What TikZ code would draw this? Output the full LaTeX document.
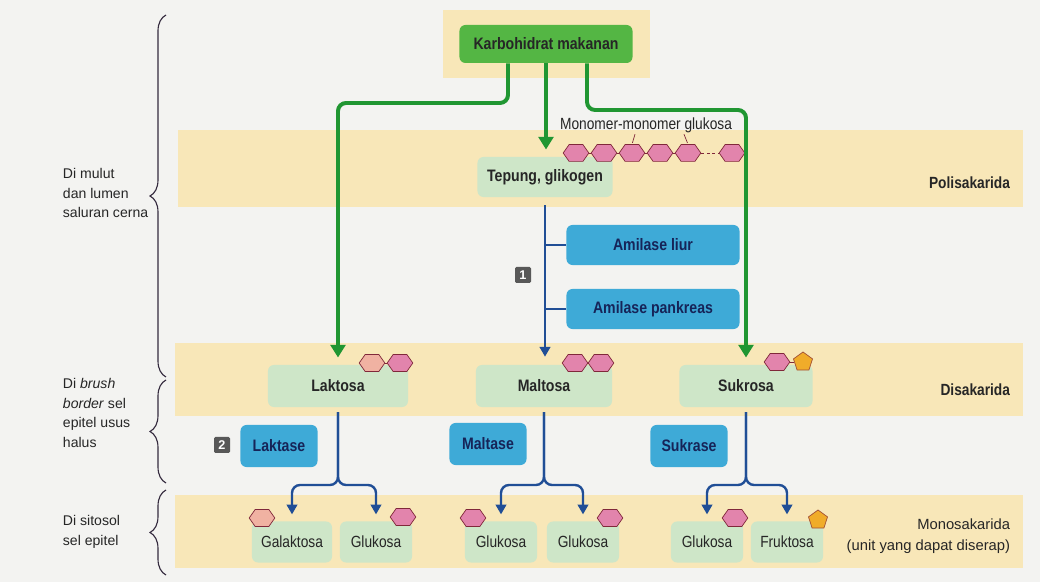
\documentclass[tikz,border=0pt]{standalone}
\usepackage{fontspec}
\setmainfont{Liberation Sans}
\newfontfamily\narrowfont[FakeStretch=0.85]{Liberation Sans}
\usetikzlibrary{arrows.meta,shapes.geometric,shapes.symbols,decorations.pathreplacing}

\definecolor{paper}{RGB}{243,243,241}
\definecolor{band}{RGB}{248,231,184}
\definecolor{dgreen}{RGB}{84,182,68}
\definecolor{lgreen}{RGB}{206,230,200}
\definecolor{eblue}{RGB}{62,170,215}
\definecolor{navy}{RGB}{22,36,88}
\definecolor{txt}{RGB}{38,38,38}
\definecolor{garrow}{RGB}{32,150,50}
\definecolor{barrow}{RGB}{32,78,150}
\definecolor{hexpink}{RGB}{226,132,172}
\definecolor{hexsalmon}{RGB}{240,178,162}
\definecolor{hexline}{RGB}{128,40,58}
\definecolor{fruorange}{RGB}{240,172,42}
\definecolor{badgegray}{RGB}{88,88,88}
\definecolor{bracecol}{RGB}{52,42,62}

\begin{document}
\begin{tikzpicture}[x=0.025cm,y=-0.025cm]
        % styles
        \tikzstyle{box}=[rounded corners=0.15cm, inner sep=0pt, text=txt, font={\narrowfont\bfseries\fontsize{11.8}{13}\selectfont}]
        \tikzstyle{topbox}=[box, fill=dgreen, minimum width=4.325cm, minimum height=0.95cm]
        \tikzstyle{sugar}=[box, fill=lgreen, minimum width=3.4cm, minimum height=1.05cm]
        \tikzstyle{enzyme}=[box, fill=eblue, text=navy, minimum height=1.0cm]
        \tikzstyle{mono}=[box, fill=lgreen, font={\narrowfont\fontsize{11.5}{13}\selectfont}, minimum width=1.8cm, minimum height=1.025cm]
        \tikzstyle{hexa}=[signal, signal to=east and west, signal pointer angle=110, fill=hexpink, draw=hexline, line width=0.5pt, minimum width=0.64cm, minimum height=0.42cm, inner sep=0pt]
        \tikzstyle{galhexa}=[hexa, fill=hexsalmon]
        \tikzstyle{penta}=[regular polygon, regular polygon sides=5, fill=fruorange, draw=hexline!70!fruorange, line width=0.5pt, minimum size=0.5cm, inner sep=0pt]
        \tikzstyle{link}=[draw=hexline, line width=0.6pt]
        \tikzstyle{greenarrow}=[draw=garrow, line width=2.8pt, rounded corners=0.2cm, -{Triangle[length=9pt,width=10.5pt]}]
        \tikzstyle{bluearrow}=[draw=barrow, line width=1.7pt, rounded corners=0.2cm, -{Triangle[length=7pt,width=7.5pt]}]
        \tikzstyle{blueline}=[draw=barrow, line width=1.7pt]
        \tikzstyle{badge}=[fill=badgegray, rounded corners=1pt, text=white, inner sep=0pt, minimum size=0.4cm, font={\bfseries\fontsize{9}{10}\selectfont}]
        \tikzstyle{side}=[anchor=west, align=left, text=txt, font={\fontsize{10}{14}\selectfont}]
        \tikzstyle{level}=[anchor=east, align=right, text=txt, font={\narrowfont\bfseries\fontsize{11.5}{13}\selectfont}]
        \tikzstyle{bracket}=[draw=bracecol, line width=0.8pt, decorate, decoration={brace, amplitude=0.4cm}]

        % page and bands
        \useasboundingbox (0,0) rectangle (1040,582);
        \fill[paper] (0,0) rectangle (1040,582);
        \fill[band] (443,10) rectangle (650,78);
        \fill[band] (178,130) rectangle (1023,207);
        \fill[band] (175,343) rectangle (1023,416);
        \fill[band] (175,495) rectangle (1023,568);

        % level labels
        \node[level] (poli) at (1015,183) {Polisakarida};
        \node[level] (di) at (1015,390) {Disakarida};
        \node[level, font={\fontsize{10.5}{15}\selectfont}] (monolvl) at (1015,536) {Monosakarida\\(unit yang dapat diserap)};

        % places
        \node[side] (mulut) at (58,193) {Di mulut\\dan lumen\\saluran cerna};
        \node[side] (brush) at (58,413) {Di \textit{brush}\\\textit{border} sel\\epitel usus\\halus};
        \node[side] (sitosol) at (58,532) {Di sitosol\\sel epitel};
        \draw[bracket] (166,377) -- (166,15);
        \draw[bracket] (166,483) -- (166,380);
        \draw[bracket] (166,575) -- (166,490);

        % food and polysaccharide
        \node[topbox] (karbo) at (546,44) {Karbohidrat makanan};
        \node[sugar, minimum width=3.375cm, minimum height=1.0cm] (tepung) at (545,177) {Tepung, glikogen};
        \node[text=txt, font={\narrowfont\fontsize{11.5}{13}\selectfont}] (monotxt) at (646,125) {Monomer-monomer glukosa};
        \foreach \i/\x in {1/576,2/604,3/632,4/660,5/688,6/732}
            \node[hexa] (h\i) at (\x,153) {};
        \foreach \a/\b in {1/2,2/3,3/4,4/5}
            \draw[link] (h\a) -- (h\b);
        \draw[link, dash pattern=on 2pt off 2pt] (h5) -- (h6);
        \draw[link, line width=0.5pt, shorten <=1pt] (h3.north) -- ++(3,-10);
        \draw[link, line width=0.5pt, shorten <=1pt] (h5.north) -- ++(-4,-10);

        % enzymes
        \node[enzyme, minimum width=4.325cm] (liur) at (653,245) {Amilase liur};
        \node[enzyme, minimum width=4.325cm] (pankreas) at (653,309) {Amilase pankreas};
        \node[enzyme, minimum width=1.925cm, minimum height=1.05cm] (laktase) at (279,446) {Laktase};
        \node[enzyme, minimum width=1.925cm, minimum height=1.05cm] (maltase) at (488,444) {Maltase};
        \node[enzyme, minimum width=1.925cm, minimum height=1.05cm] (sukrase) at (689,446) {Sukrase};
        \node[badge] (one) at (523,275) {1};
        \node[badge] (two) at (222,445) {2};

        % disaccharides
        \node[sugar, minimum width=3.5cm] (laktosa) at (338,386) {Laktosa};
        \node[sugar] (maltosa) at (544,386) {Maltosa};
        \node[sugar, minimum width=3.325cm] (sukrosa) at (746,386) {Sukrosa};

        % monosaccharides
        \node[mono, minimum width=2.0cm] (galaktosa) at (292,542) {Galaktosa};
        \node[mono] (glukosaA) at (376,542) {Glukosa};
        \node[mono] (glukosaB) at (501,542) {Glukosa};
        \node[mono] (glukosaC) at (583,542) {Glukosa};
        \node[mono] (glukosaD) at (707,542) {Glukosa};
        \node[mono] (fruktosa) at (787,542) {Fruktosa};

        % green arrows
        \coordinate (gl) at (508,103);
        \coordinate (gr) at (587,110);
        \draw[greenarrow, shorten >=0.18cm] (karbo.south -| gl) -- (gl) -| (laktosa.north);
        \draw[greenarrow, shorten >=0.18cm] (karbo.south) -- (karbo.south |- tepung.north);
        \draw[greenarrow, shorten >=0.18cm] (karbo.south -| gr) -- (gr) -| (sukrosa.north);

        % blue arrows
        \draw[bluearrow, shorten <=0.2cm, shorten >=0.2cm] (tepung.south) -- (tepung.south |- maltosa.north);
        \draw[blueline] (liur.west) -- (liur.west -| tepung.south);
        \draw[blueline] (pankreas.west) -- (pankreas.west -| tepung.south);
        \coordinate (forkL) at (338,485);
        \coordinate (forkM) at (544,485);
        \coordinate (forkS) at (746,485);
        \draw[bluearrow, shorten <=0.12cm, shorten >=0.17cm] (laktosa.south) -- (forkL) -| (galaktosa.north);
        \draw[bluearrow, shorten <=0.12cm, shorten >=0.17cm] (laktosa.south) -- (forkL) -| (glukosaA.north);
        \draw[bluearrow, shorten <=0.12cm, shorten >=0.17cm] (maltosa.south) -- (forkM) -| (glukosaB.north);
        \draw[bluearrow, shorten <=0.12cm, shorten >=0.17cm] (maltosa.south) -- (forkM) -| (glukosaC.north);
        \draw[bluearrow, shorten <=0.12cm, shorten >=0.17cm] (sukrosa.south) -- (forkS) -| (glukosaD.north);
        \draw[bluearrow, shorten <=0.12cm, shorten >=0.17cm] (sukrosa.south) -- (forkS) -| (fruktosa.north);

        % sugar icons
        \node[galhexa] (lakA) at (372,363) {};
        \node[hexa] (lakB) at (400,363) {};
        \draw[link] (lakA) -- (lakB);
        \node[hexa] (malA) at (575,363) {};
        \node[hexa] (malB) at (601,363) {};
        \draw[link] (malA) -- (malB);
        \node[hexa] (sukA) at (777,362) {};
        \node[penta] (sukB) at (803,362) {};
        \draw[link] (sukA) -- (sukB);
        \node[galhexa] (galI) at (262,518) {};
        \node[hexa] (gluI) at (403,517) {};
        \node[hexa] (gluII) at (473,518) {};
        \node[hexa] (gluIII) at (610,518) {};
        \node[hexa] (gluIV) at (735,518) {};
        \node[penta] (fruI) at (818,520) {};
\end{tikzpicture}
\end{document}
